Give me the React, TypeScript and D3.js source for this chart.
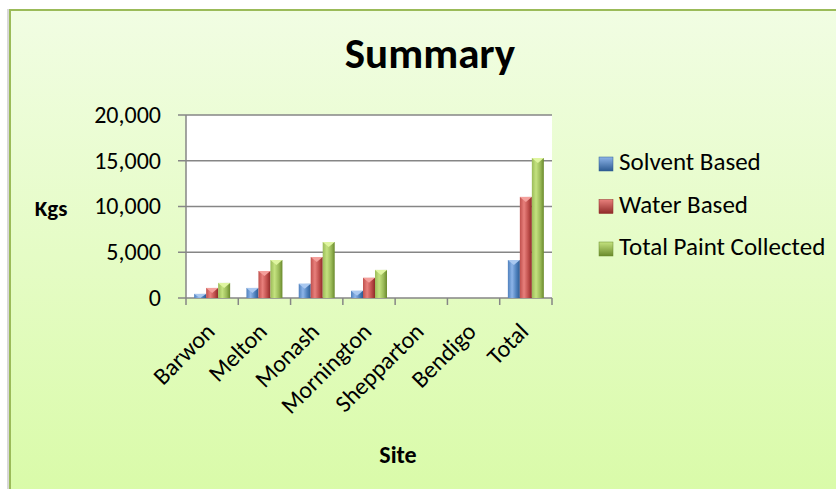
import React from "react";
import * as d3 from "d3";

const categories = ["Barwon", "Melton", "Monash", "Mornington", "Shepparton", "Bendigo", "Total"];
const seriesNames = ["Solvent Based", "Water Based", "Total Paint Collected"];
const solventBased = [450, 1100, 1550, 780, 0, 0, 4150];
const waterBased = [1100, 2950, 4480, 2200, 0, 0, 11050];
const totalPaint = [1650, 4150, 6120, 3070, 0, 0, 15300];
const yTicks = [0, 5000, 10000, 15000, 20000];
const seriesValues = [solventBased, waterBased, totalPaint];

const colors = [
  { base: "#4f81bd", light: "#8db4e8", dark: "#2d5b92", cap: "#a9c8f0" },
  { base: "#c0504d", light: "#e8807c", dark: "#8f2a28", cap: "#f4a09c" },
  { base: "#9bbb59", light: "#c4e27f", dark: "#6a8a2c", cap: "#dff5a0" },
];

const FONT = "Carlito, Calibri, Lato, sans-serif";

export default function App() {
  const W = 836, H = 489;
  const plotL = 186, plotR = 552, plotT = 115, plotB = 298;
  const x0 = d3.scaleBand<string>().domain(categories).range([plotL, plotR]).padding(0);
  const x1 = d3.scaleBand<string>().domain(seriesNames).range([0, x0.bandwidth()]).paddingInner(0).paddingOuter(0.68);
  const y = d3.scaleLinear().domain([0, 20000]).range([plotB, plotT]);
  const fmt = d3.format(",");

  return (
    <svg width={W} height={H} style={{ position: "absolute", left: 0, top: 0 }} fontFamily={FONT}>
      <defs>
        <linearGradient id="bg" x1="0" y1="0" x2="0" y2="1">
          <stop offset="0" stopColor="#f1fde3" />
          <stop offset="1" stopColor="#d9fba8" />
        </linearGradient>
        {colors.map((c, i) => (
          <linearGradient key={i} id={`bar${i}`} x1="0" y1="0" x2="1" y2="0">
            <stop offset="0" stopColor={c.base} />
            <stop offset="0.35" stopColor={c.light} />
            <stop offset="0.7" stopColor={c.base} />
            <stop offset="1" stopColor={c.dark} />
          </linearGradient>
        ))}
        {colors.map((c, i) => (
          <linearGradient key={i} id={`leg${i}`} x1="0" y1="0" x2="0" y2="1">
            <stop offset="0" stopColor={c.light} />
            <stop offset="1" stopColor={c.dark} />
          </linearGradient>
        ))}
      </defs>
      <rect x={0} y={0} width={W} height={H} fill="#ffffff" />
      <rect x={7} y={9} width={W} height={H} fill="#d8d8d8" />
      <rect x={10} y={10} width={W} height={H} fill="url(#bg)" stroke="#9bbb59" strokeWidth={2} />

      <text x={430} y={68} textAnchor="middle" fontWeight="bold" fontSize={43} fill="#000">Summary</text>

      <rect x={plotL} y={plotT} width={plotR - plotL} height={plotB - plotT} fill="#ffffff" />
      {yTicks.map((t) => (
        <g key={t}>
          <line x1={plotL - 8} x2={plotR} y1={y(t)} y2={y(t)} stroke="#868686" strokeWidth={1.5} />
          <text x={161} y={y(t)} dy="0.33em" textAnchor="end" fontSize={24} fill="#000">{fmt(t)}</text>
        </g>
      ))}
      <line x1={plotL} x2={plotL} y1={plotT} y2={plotB} stroke="#868686" strokeWidth={1.5} />
      {d3.range(categories.length + 1).map((i) => {
        const xx = plotL + i * x0.step();
        return <line key={i} x1={xx} x2={xx} y1={plotB} y2={plotB + 7} stroke="#868686" strokeWidth={1.5} />;
      })}

      {categories.map((cat, ci) => (
        <g key={cat}>
          {seriesNames.map((s, si) => {
            const v = seriesValues[si][ci];
            if (!v) return null;
            const bx = (x0(cat) as number) + (x1(s) as number);
            const bw = x1.bandwidth();
            const top = y(v);
            const capH = Math.min(5, plotB - top);
            return (
              <g key={s}>
                <rect x={bx} y={top} width={bw} height={plotB - top} fill={`url(#bar${si})`} />
                <polygon points={`${bx},${top} ${bx + bw},${top} ${bx + bw / 2},${top + capH}`} fill={colors[si].cap} />
              </g>
            );
          })}
        </g>
      ))}

      {categories.map((cat) => {
        const cx = (x0(cat) as number) + x0.bandwidth() / 2;
        return (
          <text key={cat} transform={`translate(${cx + 4},${plotB + 35}) rotate(-45)`} textAnchor="end" fontSize={24} fill="#000">{cat}</text>
        );
      })}

      <text x={51} y={216} textAnchor="middle" fontWeight="bold" fontSize={23} fill="#000">Kgs</text>
      <text x={398} y={463} textAnchor="middle" fontWeight="bold" fontSize={24} fill="#000">Site</text>

      {seriesNames.map((s, i) => {
        const ly = 164 + i * 42.5;
        return (
          <g key={s}>
            <rect x={599} y={ly - 7} width={14} height={14} fill={`url(#leg${i})`} stroke={colors[i].dark} strokeWidth={0.5} />
            <text x={619} y={ly + 6} fontSize={25} fill="#000">{s}</text>
          </g>
        );
      })}
    </svg>
  );
}
